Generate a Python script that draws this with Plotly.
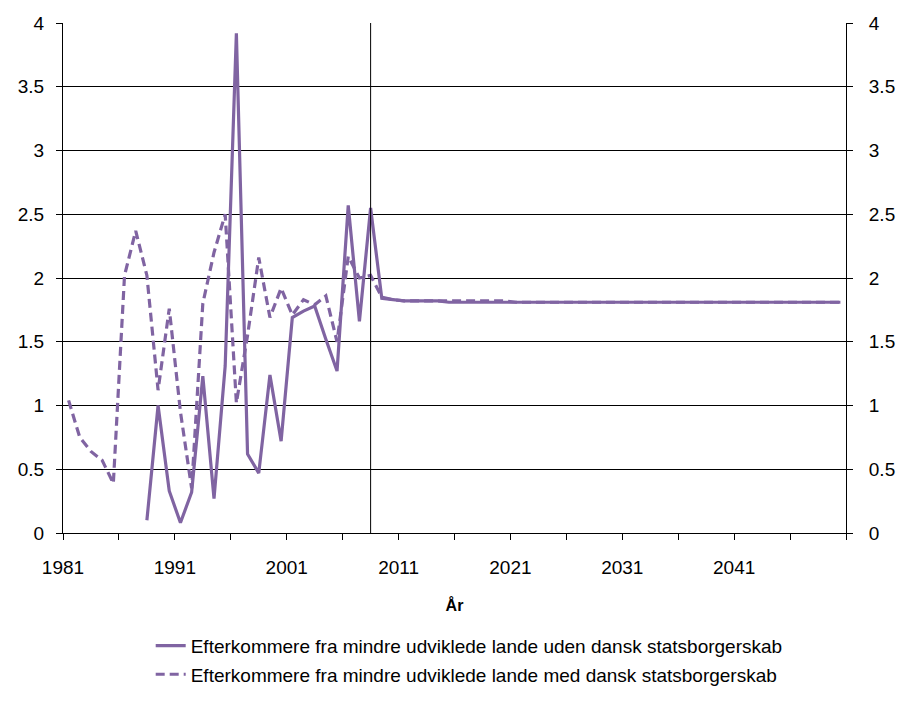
import plotly.graph_objects as go

# years 1981-2050
years = list(range(1981, 2051))

# Efterkommere uden dansk statsborgerskab (no data before 1988)
uden = [None] * 7 + [
    0.10, 1.00, 0.33, 0.08, 0.32, 1.23, 0.27, 1.31, 3.92, 0.62,
    0.47, 1.24, 0.72, 1.69, 1.74, 1.78, 1.52, 1.27, 2.57, 1.66,
    2.55, 1.84, 1.83, 1.82, 1.82, 1.82, 1.82, 1.81, 1.81, 1.81,
] + [1.81] * 33

# Efterkommere med dansk statsborgerskab
med = [
    1.04, 0.75, 0.64, 0.57, 0.39, 2.02, 2.37, 2.02, 1.12, 1.76,
    0.95, 0.35, 1.80, 2.20, 2.50, 1.02, 1.55, 2.16, 1.69, 1.92,
    1.71, 1.83, 1.79, 1.86, 1.50, 2.17, 2.00, 2.02, 1.85, 1.83,
    1.82, 1.82, 1.82, 1.82, 1.82, 1.82, 1.82, 1.82, 1.82, 1.82,
] + [1.81] * 30

names = [
    "Efterkommere fra mindre udviklede lande uden dansk statsborgerskab",
    "Efterkommere fra mindre udviklede lande med dansk statsborgerskab",
]
split_year = 2008

purple = "#8064A2"
font_family = "Liberation Sans, Arial, sans-serif"

fig = go.Figure()

fig.add_trace(
    go.Scatter(
        x=years, y=uden, name=names[0], mode="lines",
        line=dict(color=purple, width=3.2), legend="legend",
    )
)
fig.add_trace(
    go.Scatter(
        x=years, y=med, name=names[1], mode="lines",
        line=dict(color=purple, width=3.2, dash="9px,5px"), legend="legend2",
    )
)
# dummy trace so the right axis is drawn
fig.add_trace(
    go.Scatter(x=years, y=med, yaxis="y2", mode="lines",
               line=dict(width=0), opacity=0, showlegend=False, hoverinfo="skip")
)

# vertical marker at the last historical year
fig.add_shape(
    type="line", x0=split_year, x1=split_year, y0=0, y1=1, yref="paper",
    line=dict(color="black", width=1),
)

tickvals = [y - 0.5 for y in range(1981, 2052, 5)]
ticktext = [str(int(v + 0.5)) if (int(v + 0.5) - 1981) % 10 == 0 and v < 2050 else "" for v in tickvals]

legend_style = dict(xanchor="left", yanchor="top", font=dict(size=19), bgcolor="rgba(0,0,0,0)")

fig.update_layout(
    width=901, height=706,
    margin=dict(l=63, r=55, t=23, b=173),
    plot_bgcolor="white", paper_bgcolor="white",
    font=dict(family=font_family, color="black", size=19),
    showlegend=True,
    # two one-item legends so the rows can be spaced like the original
    legend=dict(x=0.112, y=-0.184, **legend_style),
    legend2=dict(x=0.112, y=-0.240, **legend_style),
    xaxis=dict(
        range=[1980.5, 2050.5], tickvals=tickvals, ticktext=ticktext,
        ticks="outside", ticklen=6, tickcolor="black", ticklabelstandoff=11,
        showline=True, linecolor="black", linewidth=1,
        showgrid=False, zeroline=False, automargin=False,
        title=dict(text="<b>År</b>", font=dict(size=16), standoff=23),
    ),
    yaxis=dict(
        range=[0, 4], dtick=0.5, ticks="outside", ticklen=6, tickcolor="black",
        showline=True, linecolor="black", linewidth=1, ticklabelstandoff=8,
        showgrid=True, gridcolor="black", gridwidth=1, zeroline=False,
        automargin=False,
    ),
    yaxis2=dict(
        range=[0, 4], dtick=0.5, overlaying="y", side="right",
        ticks="outside", ticklen=6, tickcolor="black", ticklabelstandoff=12,
        showline=True, linecolor="black", linewidth=1,
        showgrid=False, zeroline=False, automargin=False,
    ),
)

# drop the browser's default page margin so the figure sits at the corner
fig.write_html(
    "out.html",
    config={"displayModeBar": False},
    post_script="document.body.style.margin='0';",
)
